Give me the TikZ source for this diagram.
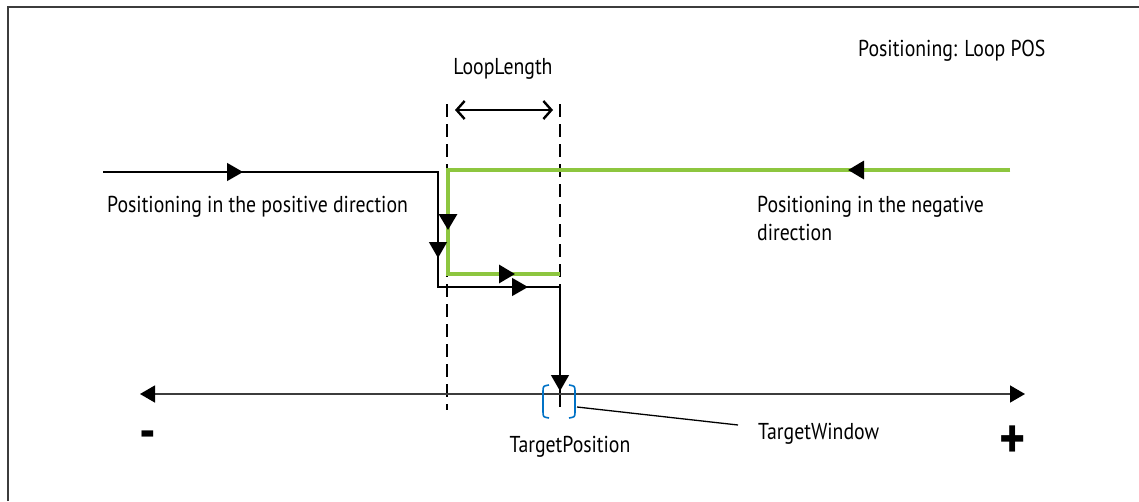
\documentclass[tikz,border=0pt]{standalone}
\usepackage{fontspec}
\setmainfont{PT Sans}[FakeStretch = 0.86]
\usetikzlibrary{arrows.meta}
\definecolor{loopgreen}{RGB}{141,198,63}
\definecolor{winblue}{RGB}{0,114,198}
\definecolor{axisgrey}{RGB}{60,60,60}
\begin{document}
\begin{tikzpicture}[x = 1pt, y = -1pt,
    every node/.style = {font = \fontsize{23}{28}\selectfont, inner sep = 0pt},
    tip/.style = {-{Triangle[length = 16pt, width = 18pt, black]}},
    guide/.style = {dash pattern = on 13pt off 7pt, line width = 1.8pt},
    posline/.style = {line width = 1.3pt, black},
    negline/.style = {line width = 3.2pt, loopgreen},
    bracket/.style = {line width = 1.6pt, winblue}]

    \useasboundingbox (0, 0) rectangle (1139, 501);

    \coordinate (f1) at (8, 501);
    \coordinate (f2) at (8, 7);
    \coordinate (f3) at (1139, 7);
    \draw[line width = 1.6pt, axisgrey] (f1) -- (f2) -- (f3);

    \node[anchor = base west] (title) at (858, 56) {Positioning: Loop POS};
    \node[anchor = base] (looplen) at (503, 74) {LoopLength};

    \coordinate (l1) at (455, 110);
    \coordinate (l2) at (553, 110);
    \draw[line width = 1.3pt, {Straight Barb[length = 8pt, width = 18pt, line width = 2.4pt]}-{Straight Barb[length = 8pt, width = 18pt, line width = 2.4pt]}] (l1) -- (l2);

    \coordinate (d1a) at (447, 104);
    \coordinate (d1b) at (447, 410);
    \coordinate (d2a) at (560, 104);
    \coordinate (d2b) at (560, 395);
    \draw[guide] (d1a) -- (d1b);
    \draw[guide] (d2a) -- (d2b);

    \coordinate (n0) at (1010, 170);
    \coordinate (n1) at (448, 170);
    \coordinate (n2) at (448, 274);
    \coordinate (n3) at (560, 274);
    \coordinate (na1) at (848, 170);
    \coordinate (na2) at (448, 230);
    \coordinate (na3) at (515, 274);
    \draw[negline] (n0) -- (n1) -- (n2) -- (n3);
    \draw[negline, tip] (n0) -- (na1);
    \draw[negline, tip] (n1) -- (na2);
    \draw[negline, tip] (n2) -- (na3);

    \coordinate (p0) at (103, 172);
    \coordinate (p1) at (438, 172);
    \coordinate (p2) at (438, 287);
    \coordinate (p3) at (560, 287);
    \coordinate (p4) at (560, 407);
    \coordinate (pa1) at (243, 172);
    \coordinate (pa2) at (438, 258);
    \coordinate (pa3) at (528, 287);
    \coordinate (pa4) at (560, 391);
    \draw[posline] (p0) -- (p1) -- (p2) -- (p3) -- (p4);
    \draw[posline, tip] (p0) -- (pa1);
    \draw[posline, tip] (p1) -- (pa2);
    \draw[posline, tip] (p2) -- (pa3);
    \draw[posline, tip] (p3) -- (pa4);

    \node[anchor = base west] (posdir) at (107, 212) {Positioning in the positive direction};
    \node[anchor = base west, align = left] (negdir) at (757, 240) {Positioning in the negative\\direction};

    \coordinate (a1) at (140, 394);
    \coordinate (a2) at (1025, 394);
    \draw[line width = 1.5pt, axisgrey, {Triangle[length = 15pt, width = 17pt, black]}-{Triangle[length = 15pt, width = 17pt, black]}] (a1) -- (a2);

    \node (minus) at (148, 440) {\fontsize{54}{54}\selectfont\bfseries -};
    \node (plus) at (1013, 442) {\fontsize{58}{58}\selectfont\bfseries +};

    \draw[bracket] (549, 385) .. controls (543, 386) .. (543, 392) -- (543, 411) .. controls (543, 417) .. (549, 418);
    \draw[bracket] (569, 385) .. controls (575, 386) .. (575, 392) -- (575, 411) .. controls (575, 417) .. (569, 418);

    \node[anchor = base] (tpos) at (570, 452) {TargetPosition};
    \node[anchor = base west] (twin) at (758, 439) {TargetWindow};
    \coordinate (w1) at (577, 407);
    \coordinate (w2) at (738, 425);
    \draw[line width = 1.3pt] (w1) -- (w2);

\end{tikzpicture}
\end{document}
